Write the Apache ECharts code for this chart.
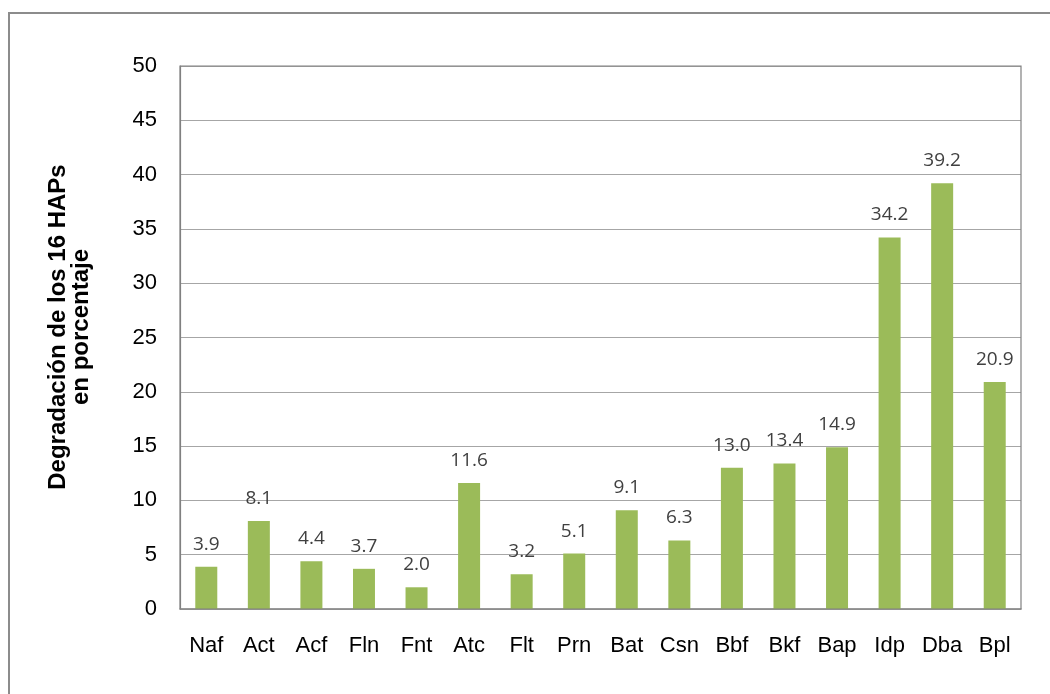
<!DOCTYPE html>
<html>
<head>
<meta charset="utf-8">
<script src="https://cdn.jsdelivr.net/npm/echarts@6/dist/echarts.min.js"></script>
<style>
  html, body { margin: 0; padding: 0; background: #fff; }
  #chart { width: 1050px; height: 694px; }
</style>
</head>
<body>
<div id="chart"></div>
<script>
// Compounds (16 PAHs) and their degradation percentage
const categories = ['Naf', 'Act', 'Acf', 'Fln', 'Fnt', 'Atc', 'Flt', 'Prn', 'Bat', 'Csn', 'Bbf', 'Bkf', 'Bap', 'Idp', 'Dba', 'Bpl'];
const degradation = [3.9, 8.1, 4.4, 3.7, 2.0, 11.6, 3.2, 5.1, 9.1, 6.3, 13.0, 13.4, 14.9, 34.2, 39.2, 20.9];
const yMin = 0, yMax = 50, yStep = 5;
const yTitle = 'Degradación de los 16 HAPs\nen porcentaje';

const chart = echarts.init(document.getElementById('chart'), null, { renderer: 'canvas' });
const grid = { left: 180, top: 66, right: 29, bottom: 85 };

chart.setOption({
  animation: false,
  backgroundColor: '#ffffff',
  graphic: [
    {
      // outer chart frame
      type: 'rect',
      shape: { x: 9, y: 13, width: 1100, height: 720 },
      style: { fill: 'none', stroke: '#8c8c8c', lineWidth: 2 },
      silent: true
    },
    {
      // plot area border
      type: 'rect',
      shape: { x: grid.left, y: grid.top, width: 1050 - grid.left - grid.right, height: 694 - grid.top - grid.bottom },
      style: { fill: 'none', stroke: '#808080', lineWidth: 1.2 },
      silent: true, z: 10
    },
    {
      type: 'text',
      x: 70, y: 327,
      rotation: Math.PI / 2,
      style: {
        text: yTitle,
        font: 'bold 24px "Liberation Sans", Arial, sans-serif',
        fill: '#000',
        align: 'center',
        verticalAlign: 'middle',
        lineHeight: 23
      }
    }
  ],
  grid: grid,
  xAxis: {
    type: 'category',
    data: categories,
    axisLine: { lineStyle: { color: '#999999', width: 1.5 } },
    axisTick: { show: false },
    axisLabel: {
      margin: 26,
      fontFamily: '"Liberation Sans", Arial, sans-serif',
      fontSize: 22,
      color: '#000'
    }
  },
  yAxis: {
    type: 'value',
    min: yMin, max: yMax, interval: yStep,
    axisLine: { show: true, lineStyle: { color: '#808080', width: 1.2 } },
    axisTick: { show: false },
    splitLine: { lineStyle: { color: '#a6a6a6', width: 1.2 } },
    axisLabel: {
      margin: 23,
      fontFamily: '"Liberation Sans", Arial, sans-serif',
      fontSize: 22,
      color: '#000'
    }
  },
  series: [{
    type: 'bar',
    data: degradation,
    barWidth: 22,
    itemStyle: { color: '#9bbb59' },
    label: {
      show: true,
      position: 'top',
      distance: 13,
      formatter: p => p.value.toFixed(1),
      fontFamily: '"Open Sans", "Noto Sans", sans-serif',
      fontSize: 19,
      color: '#404040'
    }
  }]
});
</script>
</body>
</html>
